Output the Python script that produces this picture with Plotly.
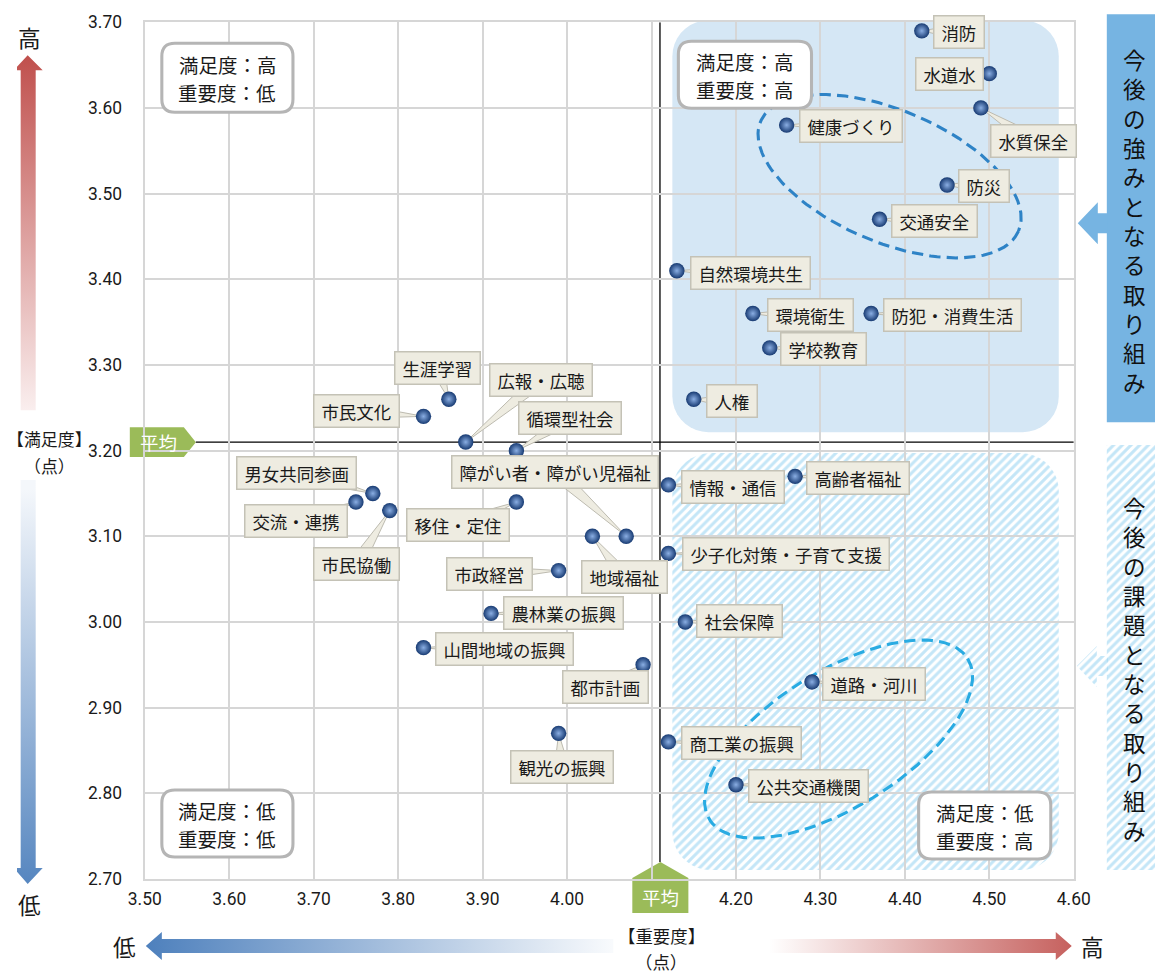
import numpy as np
import plotly.graph_objects as go

# ---------------- data ----------------
items = ["消防", "水道水", "水質保全", "健康づくり", "防災", "交通安全", "自然環境共生",
         "環境衛生", "防犯・消費生活", "学校教育", "人権", "生涯学習", "市民文化",
         "広報・広聴", "循環型社会", "障がい者・障がい児福祉", "移住・定住", "男女共同参画",
         "交流・連携", "市民協働", "地域福祉", "市政経営", "情報・通信", "高齢者福祉",
         "少子化対策・子育て支援", "社会保障", "農林業の振興", "山間地域の振興", "都市計画",
         "道路・河川", "観光の振興", "商工業の振興", "公共交通機関"]
importance = [4.42, 4.50, 4.49, 4.26, 4.45, 4.37, 4.13,
              4.22, 4.36, 4.24, 4.15, 3.86, 3.83,
              3.88, 3.94, 4.07, 3.94, 3.77,
              3.75, 3.79, 4.03, 3.99, 4.12, 4.27,
              4.12, 4.14, 3.91, 3.83, 4.09,
              4.29, 3.99, 4.12, 4.20]
satisfaction = [3.69, 3.64, 3.60, 3.58, 3.51, 3.47, 3.41,
                3.36, 3.36, 3.32, 3.26, 3.26, 3.24,
                3.21, 3.20, 3.10, 3.14, 3.15,
                3.14, 3.13, 3.10, 3.06, 3.16, 3.17,
                3.08, 3.00, 3.01, 2.97, 2.95,
                2.93, 2.87, 2.86, 2.81]
avg_importance = 4.11
avg_satisfaction = 3.21

x_tickvals = [3.5, 3.6, 3.7, 3.8, 3.9, 4.0, 4.1, 4.2, 4.3, 4.4, 4.5, 4.6]
x_ticktext = ["3.50", "3.60", "3.70", "3.80", "3.90", "4.00", "", "4.20", "4.30", "4.40", "4.50", "4.60"]
y_tickvals = [2.7, 2.8, 2.9, 3.0, 3.1, 3.2, 3.3, 3.4, 3.5, 3.6, 3.7]
y_ticktext = ["2.70", "2.80", "2.90", "3.00", "3.10", "3.20", "3.30", "3.40", "3.50", "3.60", "3.70"]

quadrant_lines = [("満足度：高", "重要度：低"), ("満足度：高", "重要度：高"),
                  ("満足度：低", "重要度：低"), ("満足度：低", "重要度：高")]
side_texts = ["今後の強みとなる取り組み", "今後の課題となる取り組み"]

# ---------------- layout (label offsets in px: box centre relative to point) ----------------
label_offsets = {
    "消防": (36, 1), "水道水": (-39, 0), "水質保全": (51, 32), "健康づくり": (62, 1),
    "防災": (36, 1), "交通安全": (53, 2), "自然環境共生": (71, 2), "環境衛生": (56, 1),
    "防犯・消費生活": (79, 1), "学校教育": (52, 1), "人権": (37, 2), "生涯学習": (-11, -31),
    "市民文化": (-65, -5), "広報・広聴": (73, -61), "循環型社会": (52, -32),
    "障がい者・障がい児福祉": (-69, -63), "移住・定住": (-57, 23), "男女共同参画": (-74, -20),
    "交流・連携": (-58, 19), "市民協働": (-32, 52), "地域福祉": (31, 40), "市政経営": (-67, 3),
    "情報・通信": (63, 2), "高齢者福祉": (61, 2), "少子化対策・子育て支援": (114, 1),
    "社会保障": (53, -1), "農林業の振興": (70, 0), "山間地域の振興": (79, 1),
    "都市計画": (-36, 22), "道路・河川": (60, 2), "観光の振興": (3, 33),
    "商工業の振興": (71, 1), "公共交通機関": (70, 1),
}

# Geometry is written in reference-image pixels. The rendered page is viewed with a small
# centre zoom-out, so the page is made slightly larger and mapped accordingly.
SX, SY = 0.970, 0.980
SA = (SX + SY) / 2
OX, OY = 577.5 * (1 - SX), 487 * (1 - SY)
W, H = 1173, 985
PL, PR, PT, PB = 145, 1073, 22, 879
XR = (3.5, 4.6)
YR = (2.7, 3.7)

JP = "Noto Sans CJK JP"
NUM = "Liberation Sans Narrow, Roboto, Liberation Sans"


def fs(v):
    return v / SA


def to_px(x, y):
    return (PL + (x - XR[0]) / (XR[1] - XR[0]) * (PR - PL),
            PB - (y - YR[0]) / (YR[1] - YR[0]) * (PB - PT))


def to_data(px, py):
    return (XR[0] + (px - PL) / (PR - PL) * (XR[1] - XR[0]),
            YR[0] + (PB - py) / (PB - PT) * (YR[1] - YR[0]))


def rrect(x0, y0, x1, y1, r, n=10):
    xs, ys = [], []
    corners = [(x1 - r, y0 + r, -90, 0), (x1 - r, y1 - r, 0, 90),
               (x0 + r, y1 - r, 90, 180), (x0 + r, y0 + r, 180, 270)]
    for cx, cy, a0, a1 in corners:
        for t in np.linspace(np.radians(a0), np.radians(a1), n):
            xs.append(cx + r * np.cos(t))
            ys.append(cy + r * np.sin(t))
    xs.append(xs[0]); ys.append(ys[0])
    return xs, ys


def rrect_path(x0, y0, x1, y1, r):
    return (f"M{x0+r},{y0} L{x1-r},{y0} Q{x1},{y0} {x1},{y0+r} L{x1},{y1-r} "
            f"Q{x1},{y1} {x1-r},{y1} L{x0+r},{y1} Q{x0},{y1} {x0},{y1-r} "
            f"L{x0},{y0+r} Q{x0},{y0} {x0+r},{y0} Z")


def ellipse_px(cx, cy, a, b, deg, n=120):
    th = np.radians(deg)
    t = np.linspace(0, 2 * np.pi, n)
    xs = cx + a * np.cos(t) * np.cos(th) - b * np.sin(t) * np.sin(th)
    ys = cy + a * np.cos(t) * np.sin(th) + b * np.sin(t) * np.cos(th)
    return xs, ys


fig = go.Figure()
canvas = dict(xaxis="x", yaxis="y", hoverinfo="skip", showlegend=False)

# quadrant background areas (canvas, reference pixel coordinates)
xs, ys = rrect(672, 20, 1058, 432, 36)
fig.add_trace(go.Scatter(x=xs, y=ys, mode="lines", fill="toself", fillcolor="#d5e7f5",
                         line=dict(width=0), **canvas))
hatch = dict(shape="/", fgcolor="#8acdf0", bgcolor="rgba(255,255,255,0)", size=fs(6), solidity=0.5)
xs, ys = rrect(672, 453, 1058, 870, 38)
fig.add_trace(go.Scatter(x=xs, y=ys, mode="lines", fill="toself", fillcolor="rgba(0,0,0,0)",
                         fillpattern=hatch, line=dict(width=0), **canvas))

# right side boxes + arrows
fig.add_trace(go.Scatter(x=[1106, 1170, 1170, 1106, 1106], y=[14, 14, 422, 422, 14], mode="lines",
                         fill="toself", fillcolor="#76b4e2", line=dict(width=0), **canvas))
fig.add_trace(go.Scatter(x=[1077, 1097, 1097, 1107, 1107, 1097, 1097, 1077],
                         y=[223, 202, 213, 213, 233, 233, 244, 223], mode="lines",
                         fill="toself", fillcolor="#76b4e2", line=dict(width=0), **canvas))
fig.add_trace(go.Scatter(x=[1106, 1170, 1170, 1106, 1106], y=[445, 445, 870, 870, 445], mode="lines",
                         fill="toself", fillcolor="rgba(0,0,0,0)", fillpattern=hatch,
                         line=dict(width=0), **canvas))
fig.add_trace(go.Scatter(x=[1076, 1096, 1096, 1107, 1107, 1096, 1096, 1076],
                         y=[666, 646, 656, 656, 676, 676, 687, 666], mode="lines",
                         fill="toself", fillcolor="rgba(0,0,0,0)", fillpattern=hatch,
                         line=dict(width=0), **canvas))

# gradient arrows
RED, BLUE = "#c0504d", "#4f81bd"
fig.add_trace(go.Scatter(x=[28, 43, 36, 36, 21, 21, 14, 28], y=[55, 70, 70, 410, 410, 70, 70, 55],
                         mode="lines", fill="toself", line=dict(width=0),
                         fillgradient=dict(type="vertical", start=55, stop=410,
                                           colorscale=[[0, RED], [1, "#fbf2f2"]]), **canvas))
fig.add_trace(go.Scatter(x=[21, 36, 36, 43, 28, 14, 21, 21], y=[480, 480, 868, 868, 884, 868, 868, 480],
                         mode="lines", fill="toself", line=dict(width=0),
                         fillgradient=dict(type="vertical", start=480, stop=884,
                                           colorscale=[[0, "#f4f7fb"], [1, BLUE]]), **canvas))
fig.add_trace(go.Scatter(x=[146, 162, 162, 613, 613, 162, 162, 146], y=[946, 932, 939, 939, 953, 953, 960, 946],
                         mode="lines", fill="toself", line=dict(width=0),
                         fillgradient=dict(type="horizontal", start=146, stop=613,
                                           colorscale=[[0, BLUE], [1, "#ffffff"]]), **canvas))
fig.add_trace(go.Scatter(x=[747, 1055, 1055, 1071, 1055, 1055, 747, 747], y=[939, 939, 932, 946, 960, 953, 953, 939],
                         mode="lines", fill="toself", line=dict(width=0),
                         fillgradient=dict(type="horizontal", start=747, stop=1071,
                                           colorscale=[[0, "#ffffff"], [1, RED]]), **canvas))

# average tags
GREEN = "#9bbb59"
fig.add_trace(go.Scatter(x=[130, 184, 196, 184, 130, 130], y=[427, 427, 442, 457, 457, 427], mode="lines",
                         fill="toself", fillcolor=GREEN, line=dict(width=0), **canvas))
fig.add_trace(go.Scatter(x=[632, 632, 660, 688, 688, 632], y=[913, 878, 862, 878, 913, 913], mode="lines",
                         fill="toself", fillcolor=GREEN, line=dict(width=0), **canvas))

# callout wedges (data subplot)
wx, wy = [], []
for name, xv, yv in zip(items, importance, satisfaction):
    dx, dy = label_offsets[name]
    px, py = to_px(xv, yv)
    cx, cy = px + dx, py + dy
    L = np.hypot(dx, dy)
    ux, uy = dx / L, dy / L
    nx, ny = -uy, ux
    hw = 7
    pts = [(cx + nx * hw, cy + ny * hw), (px, py), (cx - nx * hw, cy - ny * hw)]
    for qx, qy in pts + [pts[0]]:
        ddx, ddy = to_data(qx, qy)
        wx.append(ddx); wy.append(ddy)
    wx.append(None); wy.append(None)
fig.add_trace(go.Scatter(x=wx, y=wy, mode="lines", fill="toself", fillcolor="#eeece1",
                         line=dict(color="#bdbbb0", width=1), xaxis="x2", yaxis="y2",
                         hoverinfo="skip", showlegend=False))

# dashed ellipses (data subplot)
for (cx, cy, a, b, deg, col) in [(889, 176, 140, 66, 23, "#2e83c6"), (838, 739, 152, 68, -32, "#29abe2")]:
    exs, eys = ellipse_px(cx, cy, a, b, deg)
    dxs, dys = to_data(exs, eys)
    fig.add_trace(go.Scatter(x=dxs, y=dys, mode="lines",
                             line=dict(color=col, width=fs(3), dash=f"{fs(11):.1f}px,{fs(6):.1f}px"),
                             xaxis="x2", yaxis="y2", hoverinfo="skip", showlegend=False))

# points
fig.add_trace(go.Scatter(x=importance, y=satisfaction, mode="markers", text=items,
                         marker=dict(size=fs(15), color="#173a72",
                                     gradient=dict(type="radial", color="#8aaee3"),
                                     line=dict(width=0)),
                         xaxis="x2", yaxis="y2", showlegend=False,
                         hovertemplate="%{text}<br>重要度 %{x:.2f}<br>満足度 %{y:.2f}<extra></extra>"))

annotations = []
for name, xv, yv in zip(items, importance, satisfaction):
    dx, dy = label_offsets[name]
    annotations.append(dict(x=xv, y=yv, xref="x2", yref="y2", xshift=dx / SX, yshift=-dy / SY,
                            text="\u00a0" + name + "\u00a0", showarrow=False,
                            font=dict(family=JP, size=fs(17), color="#1a1a1a"),
                            bgcolor="#eeece1", bordercolor="#c4c2b6", borderwidth=1.5, borderpad=3))

# quadrant boxes
quad_boxes = [(162, 43, 293, 112), (678, 41, 811, 108), (162, 790, 293, 857), (918, 792, 1050, 859)]
shapes = []
for (x0, y0, x1, y1), (l1, l2) in zip(quad_boxes, quadrant_lines):
    shapes.append(dict(type="path", path=rrect_path(x0, y0, x1, y1, 13), xref="x", yref="y",
                       fillcolor="white", line=dict(color="#b5b5b5", width=fs(3)), layer="above"))
    ym = (y0 + y1) / 2 + 1
    for t, yy in [(l1, ym - 14), (l2, ym + 14)]:
        annotations.append(dict(x=(x0 + x1) / 2, y=yy, xref="x", yref="y", text=t,
                                showarrow=False, font=dict(family=JP, size=fs(19), color="#1a1a1a")))

# average lines
hx0, _ = to_data(196, 0)
_, vy0 = to_data(0, 862)
shapes.append(dict(type="line", xref="x2", yref="y2", x0=hx0, x1=XR[1], y0=avg_satisfaction,
                   y1=avg_satisfaction, line=dict(color="black", width=1.3), layer="below"))
shapes.append(dict(type="line", xref="x2", yref="y2", x0=avg_importance, x1=avg_importance, y0=vy0,
                   y1=YR[1], line=dict(color="black", width=1.3), layer="below"))

# vertical side texts (one character per line)
for txt, yc in [(side_texts[0], 220), (side_texts[1], 668)]:
    annotations.append(dict(x=1134, y=yc, xref="x", yref="y", text="<br>".join(txt),
                            showarrow=False, font=dict(family=JP, size=fs(22), color="#111111")))


# other texts
def add_text(x, y, t, size, color="#1a1a1a"):
    annotations.append(dict(x=x, y=y, xref="x", yref="y", text=t, showarrow=False,
                            font=dict(family=JP, size=fs(size), color=color)))


add_text(30, 37, "高", 22)
add_text(30, 904, "低", 22)
add_text(50, 438, "【満足度】", 16.5)
add_text(50, 465, "（点）", 16.5)
add_text(125, 946, "低", 22)
add_text(1092, 946, "高", 22)
add_text(661, 936, "【重要度】", 17)
add_text(661, 962, "（点）", 17)
add_text(159, 442, "平均", 18, "white")
add_text(660, 897, "平均", 18, "white")

axis_common = dict(showgrid=True, gridcolor="#d6d6d6", gridwidth=1.5, zeroline=False,
                   showline=True, mirror=True, linecolor="#d6d6d6", linewidth=1.5,
                   tickfont=dict(family=NUM, size=fs(17), color="#1a1a1a"),
                   ticks="outside", tickcolor="rgba(0,0,0,0)")

fig.update_layout(
    width=W, height=H, margin=dict(l=0, r=0, t=0, b=0),
    paper_bgcolor="white", plot_bgcolor="rgba(0,0,0,0)",
    xaxis=dict(domain=[0, 1], range=[OX, OX + W * SX], visible=False, fixedrange=True, anchor="y"),
    yaxis=dict(domain=[0, 1], range=[OY + H * SY, OY], visible=False, fixedrange=True, anchor="x"),
    xaxis2=dict(domain=[(PL - OX) / SX / W, (PR - OX) / SX / W], range=list(XR), anchor="y2",
                tickvals=x_tickvals, ticktext=x_ticktext, ticklen=3 / SY, **axis_common),
    yaxis2=dict(domain=[1 - (PB - OY) / SY / H, 1 - (PT - OY) / SY / H], range=list(YR), anchor="x2",
                tickvals=y_tickvals, ticktext=y_ticktext, ticklen=17 / SX, **axis_common),
    shapes=shapes, annotations=annotations,
)

fig.write_html(
    "out.html", config={"displayModeBar": False},
    post_script="document.documentElement.style.margin='0';document.body.style.margin='0';",
)
